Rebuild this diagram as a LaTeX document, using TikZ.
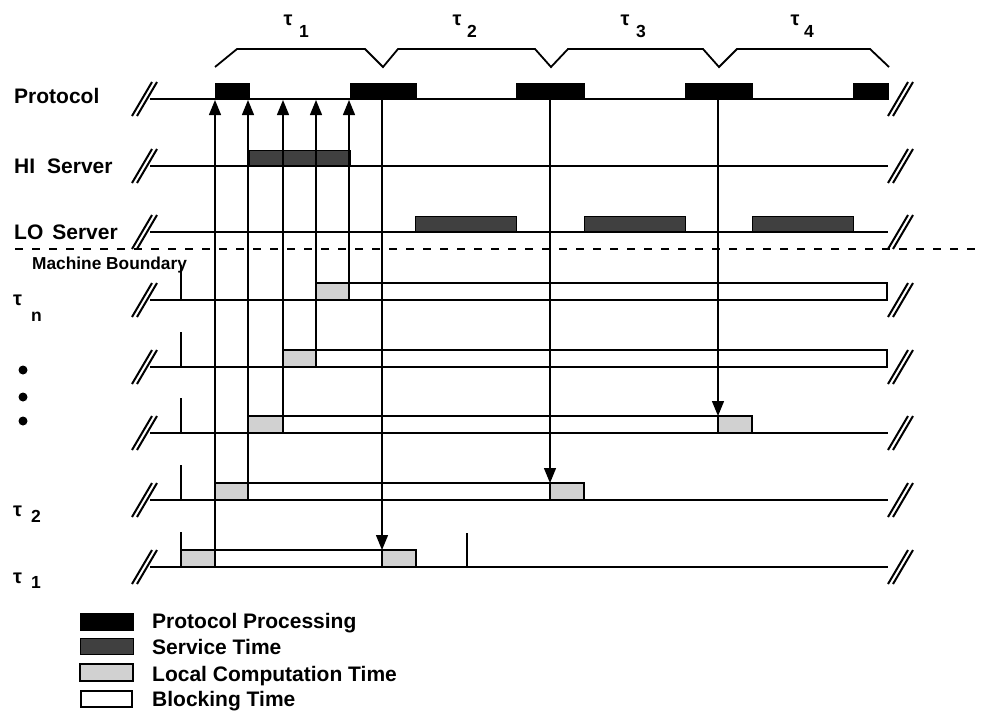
\documentclass[tikz,border=0pt]{standalone}
\usepackage{fontspec}
\setmainfont{Liberation Sans}
\usetikzlibrary{arrows.meta}
\begin{document}
\begin{tikzpicture}[x=1pt,y=-1pt,
  tl/.style={line width=2.4pt},
  brk/.style={line width=2pt},
  ppbox/.style={fill=black,draw=black,line width=1pt},
  svbox/.style={fill=black!75,draw=black,line width=1pt},
  lcbox/.style={fill=black!18,draw=black,line width=1.3pt},
  blbox/.style={fill=white,draw=black,line width=1.8pt},
  sig/.style={line width=1.3pt},
  arr/.style={sig,-{Triangle[width=12pt,length=15pt]}},
  tickmark/.style={line width=1.2pt},
  brace/.style={line width=1.8pt,line join=miter},
  lab/.style={font=\fontsize{21}{25}\selectfont\bfseries,anchor=base west,inner sep=0pt},
  mlab/.style={font=\fontsize{17.3}{20}\selectfont\bfseries,anchor=base west,inner sep=0pt},
  taul/.style={font=\fontsize{20}{22}\selectfont\bfseries,anchor=base,inner sep=0pt},
  digl/.style={font=\fontsize{17.5}{20}\selectfont\bfseries,anchor=base west,inner sep=0pt},
  dotm/.style={circle,fill=black,inner sep=0pt,minimum size=9pt}
]
\useasboundingbox (0,0) rectangle (981,710);

% ---- braces
\draw[brace] (215,67) -- (237,49) -- (365,49) -- (383,67) -- (398,49) -- (535,49) -- (551,67) -- (568,49) -- (703,49) -- (719,67) -- (737,49) -- (870,49) -- (889,67);

% tau labels on top
\node[taul] (ta1) at (288,25) {τ};  \node[digl] (na1) at (299,37) {1};
\node[taul] (ta2) at (457,25) {τ};  \node[digl] (na2) at (467,37) {2};
\node[taul] (ta3) at (625,25) {τ};  \node[digl] (na3) at (636,37) {3};
\node[taul] (ta4) at (795,25) {τ};  \node[digl] (na4) at (804,37) {4};

% ---- left labels
\node[lab] (lp) at (14,103) {Protocol};
\node[lab] (lh) at (14,173) {HI\hspace{12pt}Server};
\node[lab] (ll) at (14,239) {LO\hspace{9pt}Server};
\node[mlab] (lm) at (32,269) {Machine Boundary};

\node[taul,anchor=base west] (tn) at (13,305) {τ}; \node[digl] (nn) at (31,321) {n};
\node[taul,anchor=base west] (t2) at (13,516) {τ}; \node[digl] (n2) at (31,522) {2};
\node[taul,anchor=base west] (t1) at (13,583) {τ}; \node[digl] (n1) at (31,588) {1};
\node[dotm] (d1) at (23,370) {};
\node[dotm] (d2) at (23,397) {};
\node[dotm] (d3) at (23,421) {};

% ---- blocking / bars
% Protocol processing
\foreach \a/\b in {215/249,350/416,516/584,685/752,853/888}
  \draw[ppbox] (\a,83) rectangle (\b,99);
% HI server
\draw[svbox] (249,150) rectangle (350,166);
% LO server
\foreach \a/\b in {415/516,584/685,752/853}
  \draw[svbox] (\a,216) rectangle (\b,232);
% tau_n row
\draw[blbox] (349,283) rectangle (887,300);
\draw[lcbox] (316,283) rectangle (349,300);
% row 2 (367)
\draw[blbox] (316,350) rectangle (887,367);
\draw[lcbox] (283,350) rectangle (316,367);
% row 3 (433)
\draw[blbox] (283,416) rectangle (718,433);
\draw[lcbox] (248,416) rectangle (283,433);
\draw[lcbox] (718,416) rectangle (752,433);
% tau_2 row
\draw[blbox] (248,483) rectangle (550,500);
\draw[lcbox] (215,483) rectangle (248,500);
\draw[lcbox] (550,483) rectangle (584,500);
% tau_1 row
\draw[blbox] (215,550) rectangle (382,567);
\draw[lcbox] (181,550) rectangle (215,567);
\draw[lcbox] (382,550) rectangle (416,567);

% ---- timelines with break marks
\foreach \y in {99,166,232,300,367,433,500,567}{
  \draw[tl] (150,\y) -- (888,\y);
  \draw[brk] (132,\y+17) -- (152,\y-17);
  \draw[brk] (137,\y+17) -- (157,\y-17);
  \draw[brk] (888,\y+17) -- (908,\y-17);
  \draw[brk] (893,\y+17) -- (913,\y-17);
}

% machine boundary
\draw[line width=1.8pt,dash pattern=on 8pt off 9pt] (15,249) -- (981,249);

% ticks
\foreach \y in {300,367,433,500,567}
  \draw[tickmark] (181,\y) -- (181,\y-35);
\draw[tickmark] (467,567) -- (467,533);

% ---- signal arrows
\coordinate (u1s) at (215,567); \coordinate (u1e) at (215,100);
\coordinate (u2s) at (248,500); \coordinate (u2e) at (248,100);
\coordinate (u3s) at (283,433); \coordinate (u3e) at (283,100);
\coordinate (u4s) at (316,367); \coordinate (u4e) at (316,100);
\coordinate (u5s) at (349,300); \coordinate (u5e) at (349,100);
\draw[arr] (u1s) -- (u1e);
\draw[arr] (u2s) -- (u2e);
\draw[arr] (u3s) -- (u3e);
\draw[arr] (u4s) -- (u4e);
\draw[arr] (u5s) -- (u5e);
\coordinate (d1s) at (382,99); \coordinate (d1e) at (382,550);
\coordinate (d2s) at (550,99); \coordinate (d2e) at (550,483);
\coordinate (d3s) at (718,99); \coordinate (d3e) at (718,416);
\draw[arr] (d1s) -- (d1e);
\draw[arr] (d2s) -- (d2e);
\draw[arr] (d3s) -- (d3e);

% ---- legend
\draw[ppbox] (80,613) rectangle (133,630);
\draw[svbox] (80,638) rectangle (133,654);
\draw[lcbox] (80,664) rectangle (133,681);
\draw[blbox] (81,691) rectangle (132,707);
\node[lab] (g1) at (152,628) {Protocol Processing};
\node[lab] (g2) at (152,654) {Service Time};
\node[lab] (g3) at (152,681) {Local Computation Time};
\node[lab] (g4) at (152,706) {Blocking Time};
\end{tikzpicture}
\end{document}
